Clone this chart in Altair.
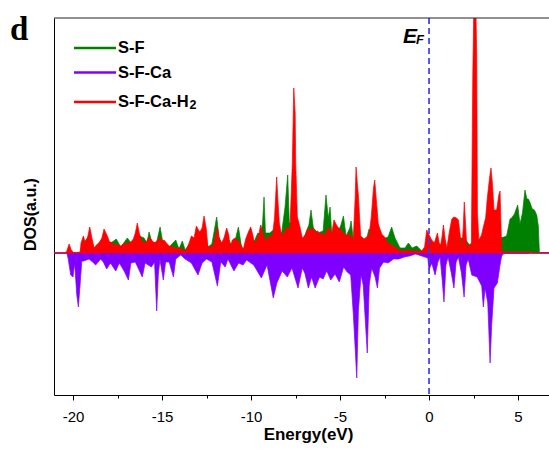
import altair as alt
import pandas as pd

# ---------------- data ----------------
series_names = ["S-F", "S-F-Ca", "S-F-Ca-H2"]
series_colors = ["#008000", "#8000ff", "#ff0000"]

sf_energy = [-21.07, -20.3, -20.22, -20.1, -19.6, -19.5, -19.06, -18.82, -18.26, -17.95,
             -17.57, -17.32, -16.95, -16.7, -16.39, -16.01, -15.85, -15.73, -15.55, -15.3,
             -15.11, -14.95, -14.6, -14.23, -14.05, -13.86, -13.7, -13.35, -12.64, -12.42,
             -12.2, -11.93, -11.8, -11.65, -11.37, -11.1, -10.9, -10.71, -10.55, -10.43,
             -10.2, -9.81, -9.62, -9.46, -9.35, -9.27, -9.19, -8.95, -8.6, -8.28,
             -8.09, -7.94, -7.85, -7.6, -7.3, -7.12, -6.97, -6.75, -6.63, -6.5,
             -6.25, -5.95, -5.79, -5.66, -5.56, -5.47, -5.13, -4.95, -4.81, -4.66,
             -4.45, -4.38, -4.25, -3.8, -3.5, -3.37, -3.2, -2.9, -2.6, -2.3,
             -2.1, -1.91, -1.63, -1.35, -1.16, -0.95, -0.69, -0.41, -0.2, 0.0,
             0.5, 1.0, 1.5, 2.0, 2.27, 2.5, 3.0, 3.5, 4.0, 4.21,
             4.36, 4.55, 4.64, 4.8, 4.98, 5.11, 5.25, 5.39, 5.5, 5.58,
             5.66, 5.8, 5.92, 6.05, 6.14, 6.2, 6.74]
sf_dos = [0, 0, 0.5, 0, 0, 0.8, 1.8, 0.4, 1.6, 0.9,
          1.4, 0.6, 1.5, 0.9, 1.8, 1.5, 1.0, 2.1, 1.0, 1.1,
          2.6, 1.0, 0.6, 1.3, 0.4, 1.2, 0.3, 1.2, 2.0, 0.6,
          0.9, 3.6, 1.6, 0.9, 1.7, 0.8, 1.2, 2.6, 0.8, 0.3,
          1.5, 1.2, 2.0, 1.8, 3.0, 5.6, 2.0, 2.0, 2.5, 2.0,
          4.6, 7.8, 3.0, 3.0, 2.0, 1.3, 1.8, 2.8, 4.3, 2.5,
          2.0, 2.2, 5.8, 3.5, 4.6, 2.0, 2.0, 2.8, 3.7, 1.7,
          2.5, 3.2, 1.3, 1.2, 1.5, 2.4, 1.8, 1.5, 1.4, 1.6,
          2.6, 1.5, 0.5, 0.5, 1.0, 0.5, 0.7, 0.2, 0.3, 1.0,
          1.0, 0.4, 1.5, 1.5, 0.8, 1.0, 1.5, 2.5, 1.5, 1.6,
          1.7, 3.4, 3.5, 3.9, 4.8, 2.9, 4.0, 6.3, 5.4, 5.4,
          5.1, 4.4, 4.3, 3.8, 2.7, 0.05, 0.05]

sfca_energy = [-21.07, -20.35, -20.28, -20.13, -20.0, -19.91, -19.79, -19.7, -19.61, -19.51,
               -19.4, -19.1, -18.9, -18.73, -18.45, -18.3, -18.11, -17.9, -17.6, -17.4,
               -17.13, -16.89, -16.75, -16.5, -16.11, -15.95, -15.6, -15.42, -15.3, -15.21,
               -15.12, -14.93, -14.8, -14.6, -14.36, -14.23, -13.95, -13.7, -13.35, -12.98,
               -12.75, -12.5, -12.2, -11.89, -11.7, -11.45, -11.3, -10.96, -10.7, -10.45,
               -10.25, -9.85, -9.42, -9.1, -8.75, -8.55, -8.25, -7.96, -7.7, -7.36,
               -7.12, -6.98, -6.78, -6.6, -6.4, -6.15, -5.95, -5.75, -5.52, -5.28,
               -5.04, -4.8, -4.6, -4.4, -4.25, -4.06, -3.97, -3.82, -3.7, -3.47,
               -3.36, -3.22, -3.03, -2.9, -2.78, -2.55, -2.3, -2.0, -1.7, -1.4,
               -1.1, -0.75, -0.41, -0.07, 0.0, 0.15, 0.34, 0.5, 0.62, 0.73,
               0.84, 0.95, 1.07, 1.25, 1.4, 1.52, 1.65, 1.82, 1.97, 2.08,
               2.2, 2.4, 2.7, 2.96, 3.05, 3.15, 3.3, 3.43, 3.52, 3.65,
               3.84, 3.98, 4.08, 4.2, 5.6, 5.65, 6.74]
sfca_dos = [0, 0, -0.5, -2.2, -2.4, -1.0, -4.2, -5.4, -3.3, -0.8,
            -0.8, -0.6, -0.9, -1.2, -0.6, -0.9, -1.6, -1.0, -1.8, -1.0,
            -1.8, -2.7, -1.0, -0.9, -2.4, -1.0, -1.4, -0.9, -5.8, -2.2,
            -0.6, -2.7, -0.9, -0.9, -2.4, -0.6, -0.2, -0.6, -1.0, -2.2,
            -1.0, -0.6, -0.9, -3.3, -0.9, -1.4, -0.6, -1.8, -1.0, -1.2,
            -0.7, -1.2, -2.5, -1.2, -4.5, -3.0, -1.8, -2.4, -1.5, -3.5,
            -1.5, -2.0, -3.5, -2.4, -3.5, -2.4, -2.6, -1.8, -2.7, -2.1,
            -2.9, -1.4, -1.9, -2.2, -6.2, -12.5, -5.8, -2.2, -3.2, -10.0,
            -3.2, -1.5, -2.4, -3.5, -1.5, -0.9, -1.0, -0.6, -0.6, -0.4,
            -0.3, -0.1, -0.3, -0.5, -1.7, -1.0, -2.2, -0.9, -0.4, -2.5,
            -4.9, -1.2, -0.4, -2.0, -3.5, -0.9, -0.4, -2.0, -4.4, -1.2,
            -0.6, -2.2, -2.4, -3.3, -5.4, -3.5, -5.0, -11.0, -7.2, -3.5,
            -3.0, -1.3, -0.3, -0.05, -0.05, 0, 0]

sfcah2_energy = [-21.07, -20.45, -20.35, -20.22, -20.1, -19.95, -19.6, -19.55, -19.42, -19.3,
                 -19.18, -19.06, -18.95, -18.82, -18.63, -18.5, -18.38, -18.26, -18.15, -18.07,
                 -17.95, -17.85, -17.7, -17.55, -17.32, -17.15, -16.95, -16.75, -16.61, -16.5,
                 -16.39, -16.28, -16.16, -16.0, -15.85, -15.73, -15.55, -15.4, -15.25, -15.11,
                 -15.0, -14.89, -14.75, -14.6, -14.4, -14.23, -14.05, -13.86, -13.67, -13.5,
                 -13.35, -13.2, -13.07, -12.95, -12.88, -12.75, -12.64, -12.52, -12.42, -12.25,
                 -12.1, -11.97, -11.89, -11.8, -11.65, -11.5, -11.37, -11.25, -11.18, -11.05,
                 -10.9, -10.78, -10.65, -10.5, -10.43, -10.3, -10.15, -10.02, -9.9, -9.81,
                 -9.7, -9.55, -9.46, -9.35, -9.27, -9.19, -9.05, -8.95, -8.8, -8.68,
                 -8.56, -8.48, -8.41, -8.28, -8.15, -8.0, -7.88, -7.81, -7.68, -7.6,
                 -7.52, -7.49, -7.4, -7.25, -7.12, -6.97, -6.8, -6.63, -6.5, -6.4,
                 -6.25, -6.12, -6.0, -5.85, -5.66, -5.56, -5.47, -5.34, -5.2, -5.13,
                 -4.95, -4.81, -4.66, -4.5, -4.38, -4.25, -4.15, -4.1, -4.03, -3.97,
                 -3.9, -3.84, -3.65, -3.5, -3.37, -3.25, -3.12, -3.05, -2.97, -2.85,
                 -2.66, -2.5, -2.3, -2.1, -1.91, -1.7, -1.5, -1.2, -0.9, -0.6,
                 -0.41, -0.25, -0.13, -0.02, 0.15, 0.3, 0.47, 0.55, 0.62, 0.72,
                 0.81, 0.9, 1.0, 1.15, 1.28, 1.4, 1.55, 1.65, 1.75, 1.84,
                 1.92, 1.98, 2.05, 2.12, 2.27, 2.38, 2.46, 2.53, 2.62, 2.68,
                 2.72, 2.8, 2.95, 3.05, 3.18, 3.28, 3.4, 3.48, 3.56, 3.65,
                 3.8, 3.92, 3.99, 4.04, 4.08, 4.3, 5.8, 5.85, 6.74]
sfcah2_dos = [0, 0, 0.2, 0.9, 0.3, 0, 0.1, 1.0, 1.7, 1.0,
              1.6, 2.6, 1.6, 0.5, 0.9, 1.1, 1.5, 2.4, 2.0, 1.7,
              1.1, 1.1, 0.8, 0.9, 0.7, 0.9, 1.0, 1.1, 1.4, 2.0,
              3.0, 2.0, 1.3, 1.0, 1.2, 1.6, 1.2, 1.0, 1.3, 1.6,
              1.2, 1.3, 1.0, 0.7, 0.6, 0.5, 0.5, 0.4, 0.2, 0.9,
              1.7, 1.5, 2.7, 2.3, 2.1, 2.5, 3.7, 2.5, 0.6, 0.6,
              0.9, 2.0, 2.6, 1.5, 1.0, 1.6, 2.5, 1.8, 0.6, 1.3,
              1.5, 1.3, 1.1, 0.5, 0.4, 1.4, 2.1, 2.6, 1.8, 1.0,
              1.2, 2.0, 2.8, 2.1, 1.7, 1.2, 1.6, 1.7, 1.7, 3.5,
              7.6, 5.0, 3.0, 1.7, 2.0, 2.6, 2.3, 2.6, 9.0, 16.5,
              14.0, 9.0, 3.6, 2.6, 1.5, 1.7, 2.5, 2.3, 2.5, 2.1,
              2.2, 1.8, 2.0, 1.8, 2.6, 2.3, 1.9, 3.3, 2.8, 2.6,
              2.3, 2.0, 1.7, 2.0, 1.5, 1.6, 5.5, 8.6, 7.0, 5.8,
              3.5, 1.7, 1.4, 1.6, 1.8, 3.5, 6.5, 7.3, 5.5, 2.9,
              1.9, 1.6, 1.0, 0.8, 0.6, 0.3, 0.2, 0.3, 0.2, 0.2,
              0.2, 0.6, 2.3, 1.9, 1.3, 1.0, 2.0, 1.2, 0.5, 1.5,
              2.8, 1.5, 0.5, 2.2, 3.4, 3.6, 3.5, 3.3, 1.8, 0.4,
              2.5, 5.1, 3.0, 0.6, 0.8, 1.0, 18.0, 26.0, 26.0, 19.5,
              4.0, 1.3, 1.8, 2.6, 3.5, 5.6, 7.5, 8.5, 7.0, 4.3,
              4.3, 5.8, 6.2, 3.0, 0.2, 0.1, 0.1, 0, 0]

x_tick_values = [-20, -17.5, -15, -12.5, -10, -7.5, -5, -2.5, 0, 2.5, 5]
x_domain = [-21.07, 6.74]
y_domain = [-14.2, 23.5]
fermi_level = [0.0]

# ---------------- styling ----------------
FONT = "Liberation Sans"
W, H = 495, 377

series_data = [
    (sf_energy, sf_dos),
    (sfca_energy, sfca_dos),
    (sfcah2_energy, sfcah2_dos),
]

x_enc = alt.X(
    "E:Q",
    scale=alt.Scale(domain=x_domain, nice=False, zero=False),
    axis=alt.Axis(
        title="Energy(eV)",
        values=x_tick_values,
        tickSize={"condition": {"test": "datum.value % 5 === 0", "value": 5}, "value": 3},
        tickColor="black",
        tickWidth=1,
        domainColor="black",
        domainWidth=1,
        grid=False,
        labelOverlap=False,
        labelExpr="datum.value % 5 === 0 ? '' + datum.value : ''",
        labelFont=FONT,
        labelFontSize=15,
        labelColor="black",
        labelPadding=9,
        titleFont=FONT,
        titleFontSize=17,
        titleFontWeight="bold",
        titleColor="black",
        titleX=254,
        titleY=44,
        titleBaseline="alphabetic",
    ),
)
y_enc = alt.Y(
    "dos:Q",
    scale=alt.Scale(domain=y_domain, nice=False, zero=False),
    axis=alt.Axis(
        title="DOS(a.u.)",
        ticks=False,
        labels=False,
        grid=False,
        domainColor="black",
        domainWidth=1,
        titleFont=FONT,
        titleFontSize=16,
        titleFontWeight="bold",
        titleColor="black",
        titleX=-16,
        titleY=196,
    ),
)

def area_layer(idx):
    e, d = series_data[idx]
    df = pd.DataFrame({"E": e, "dos": d})
    c = series_colors[idx]
    return alt.Chart(df).mark_area(
        color=c, stroke=c, strokeWidth=0.7, clip=True, interpolate="linear"
    ).encode(x=x_enc, y=y_enc, y2=alt.datum(0))

layers = [area_layer(0), area_layer(1), area_layer(2)]

# Fermi level dashed line
fermi = alt.Chart(pd.DataFrame({"E": fermi_level})).mark_rule(
    color="#3c3cf0", strokeDash=[6, 4], strokeWidth=1.7
).encode(x=x_enc)
layers.append(fermi)

# top frame line
top_line = alt.Chart(pd.DataFrame({"a": [0]})).mark_rule(color="#222222", strokeWidth=1).encode(
    y=alt.value(0)
)
layers.append(top_line)

# E_F label
ef_E = alt.Chart(pd.DataFrame({"a": [0]})).mark_text(
    text="E", font=FONT, fontSize=21, fontStyle="italic", fontWeight="bold",
    align="right", baseline="alphabetic", color="black"
).encode(x=alt.value(363), y=alt.value(25))
ef_F = alt.Chart(pd.DataFrame({"a": [0]})).mark_text(
    text="F", font=FONT, fontSize=13, fontStyle="italic", fontWeight="bold",
    align="left", baseline="alphabetic", color="black"
).encode(x=alt.value(362), y=alt.value(26))
layers += [ef_E, ef_F]

# panel label
panel = alt.Chart(pd.DataFrame({"a": [0]})).mark_text(
    text="d", font="Liberation Serif", fontSize=33, fontWeight="bold", align="left", baseline="alphabetic", color="black"
).encode(x=alt.value(-44), y=alt.value(22))
layers.append(panel)

# manual legend
legend_y = [30, 54.5, 84]
for i, name in enumerate(series_names):
    c = series_colors[i]
    base = alt.Chart(pd.DataFrame({"a": [0]}))
    layers.append(base.mark_rule(color=c, strokeWidth=2.5).encode(
        x=alt.value(20), x2=alt.value(62), y=alt.value(legend_y[i])))
    main_txt = name[:-1] if name.endswith("2") else name
    layers.append(base.mark_text(
        text=main_txt, font=FONT, fontSize=16.5, fontWeight="bold", align="left", baseline="middle", color="black"
    ).encode(x=alt.value(64), y=alt.value(legend_y[i])))
    if name.endswith("2"):
        layers.append(base.mark_text(
            text="2", font=FONT, fontSize=12.5, fontWeight="bold", align="left", baseline="alphabetic", color="black"
        ).encode(x=alt.value(135.5), y=alt.value(legend_y[i] + 6.5)))

chart = alt.layer(*layers).properties(
    width=W,
    height=H,
    autosize=alt.AutoSizeParams(type="none"),
    padding={"left": 54, "top": 18, "right": 0, "bottom": 56},
).configure_view(stroke=None)

chart.save("out.html", embed_options={"renderer": "svg", "actions": False})
